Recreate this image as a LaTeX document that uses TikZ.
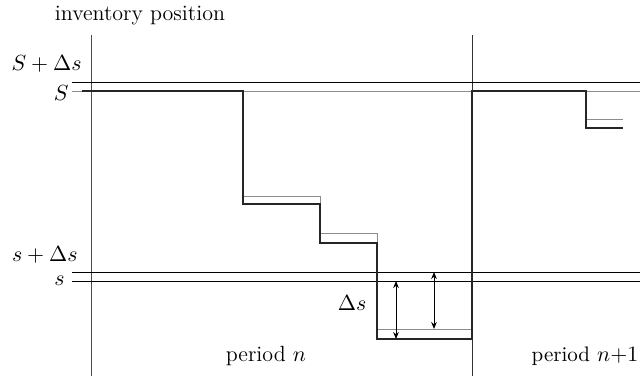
\documentclass[tikz,border=0pt]{standalone}
\usetikzlibrary{arrows.meta}
\begin{document}
\begin{tikzpicture}[x=0.5pt,y=-0.5pt,
  thinline/.style={line width=0.45pt,black},
  greyline/.style={line width=0.5pt,black!45},
  stock/.style={line width=1.1pt,black!85,line join=miter},
  dim/.style={line width=0.45pt,{Stealth[length=3.5pt,width=2.8pt]}-{Stealth[length=3.5pt,width=2.8pt]}},
  lbl/.style={inner sep=0pt,font=\fontsize{10.5}{12}\selectfont},
  biglbl/.style={inner sep=0pt,font=\fontsize{11}{13}\selectfont}]
\useasboundingbox (0,0) rectangle (640,376);
% axes
\draw[thinline,black!70] (91,35) -- (91,376);
\draw[thinline,black!80] (472,35) -- (472,376);
% levels
\draw[thinline] (72,82) -- (640,82);
\draw[greyline] (72,91) -- (640,91);
\draw[thinline] (72,272) -- (640,272);
\draw[thinline] (72,281) -- (640,281);
% shifted (grey) path
\draw[greyline] (243,196) -- (320,196) -- (320,204);
\draw[greyline] (320,233) -- (377,233) -- (377,243);
\draw[greyline] (377,329) -- (472,329);
\draw[greyline] (586,119) -- (623,119);
% inventory position path
\draw[stock] (82,91) -- (243,91) -- (243,204) -- (320,204) -- (320,243) -- (377,243) -- (377,339) -- (472,339) -- (472,91) -- (586,91) -- (586,128) -- (623,128);
% dimension arrows
\coordinate (a1) at (396,281); \coordinate (a2) at (396,339);
\coordinate (b1) at (434,272); \coordinate (b2) at (434,329);
\draw[dim] (a1) -- (a2);
\draw[dim] (b1) -- (b2);
% labels
\node[biglbl] (ip) at (140,16) {inventory position};
\node[lbl,anchor=east] (Sd) at (82,64) {$S+\Delta s$};
\node[lbl,anchor=east] (S) at (69,93) {$S$};
\node[lbl,anchor=east] (sd) at (78,255) {$s+\Delta s$};
\node[lbl,anchor=east] (s) at (65,281) {$s$};
\node[lbl] (ds) at (352,303) {$\Delta s$};
\node[biglbl] (pn) at (266,356) {period $n$};
\node[lbl] (pn1) at (585,356) {period $n{+}1$};
\end{tikzpicture}
\end{document}
